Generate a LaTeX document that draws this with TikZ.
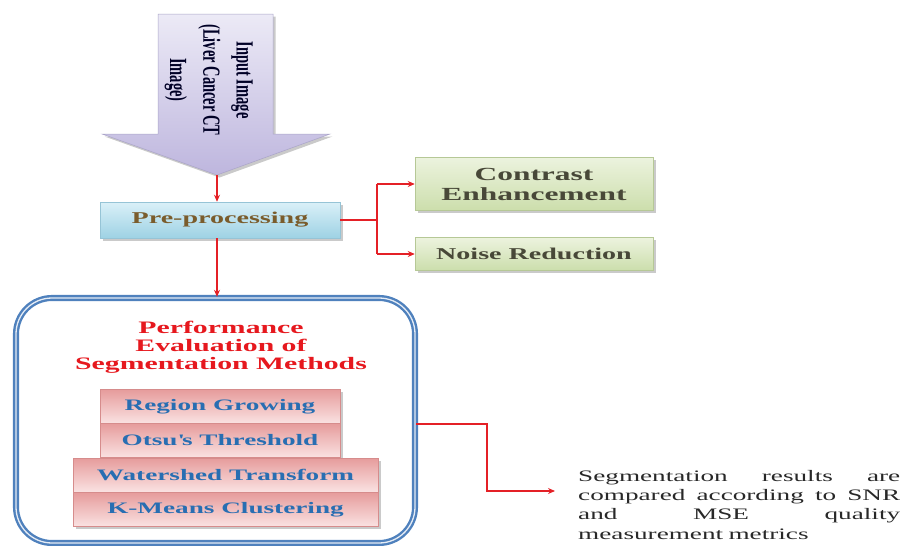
\documentclass[tikz,border=0pt]{standalone}
\usepackage{graphicx}
\usepackage{fontspec}
\setmainfont{Liberation Serif}[FakeStretch=1.7]
\newfontfamily\plainserif{Liberation Serif}
\usetikzlibrary{shadows,arrows.meta,calc}
\definecolor{redln}{RGB}{228,32,38}
\definecolor{lavtop}{RGB}{236,234,246}
\definecolor{lavbot}{RGB}{190,182,222}
\definecolor{lavedge}{RGB}{170,164,200}
\definecolor{cyantop}{RGB}{218,240,248}
\definecolor{cyanbot}{RGB}{158,210,228}
\definecolor{cyanedge}{RGB}{150,196,214}
\definecolor{grntop}{RGB}{236,243,222}
\definecolor{grnbot}{RGB}{204,222,172}
\definecolor{grnedge}{RGB}{182,200,150}
\definecolor{pinktop}{RGB}{230,156,156}
\definecolor{pinkbot}{RGB}{250,226,226}
\definecolor{pinkedge}{RGB}{214,140,140}
\definecolor{frameblue}{RGB}{79,129,189}
\definecolor{prebrown}{RGB}{122,92,44}
\definecolor{olivetxt}{RGB}{72,72,56}
\definecolor{methblue}{RGB}{40,110,178}
\definecolor{titlered}{RGB}{230,24,30}
\definecolor{restxt}{RGB}{40,40,40}
\tikzset{
  redline/.style={draw=redln, line width=1.5pt},
  redarrow/.style={redline, -{Stealth[length=7pt,width=6pt]}},
  softshadow/.style={drop shadow={shadow xshift=2.5pt, shadow yshift=-2.5pt, opacity=0.35, fill=black!60}},
  prebox/.style={draw=cyanedge, line width=0.5pt, top color=cyantop, bottom color=cyanbot,
    softshadow, minimum width=240pt, minimum height=36pt, inner sep=0pt,
    font=\fontsize{16.5}{18}\selectfont\bfseries, text=prebrown},
  grnbox/.style={draw=grnedge, line width=0.5pt, top color=grntop, bottom color=grnbot,
    softshadow, minimum width=238pt, inner sep=0pt, align=center, text=olivetxt},
  methbox/.style={draw=pinkedge, line width=0.5pt, top color=pinktop, bottom color=pinkbot,
    softshadow, minimum height=34pt, inner sep=0pt,
    font=\fontsize{16}{18}\selectfont\bfseries, text=methblue},
  framebox/.style={draw=frameblue, line width=2.4pt, double=white!85!frameblue, double distance=1.3pt,
    rounded corners=36pt, minimum width=399pt, minimum height=245pt, inner sep=0pt},
}
\begin{document}
\begin{tikzpicture}[x=1pt,y=-1pt]
\useasboundingbox (0,0) rectangle (900,546);
% input block arrow
\path[draw=lavedge, line width=0.5pt, top color=lavtop, bottom color=lavbot, softshadow]
  (158,14) -- (273,14) -- (273,134) -- (330,134) -- (217,175) -- (102,134) -- (158,134) -- cycle;
\coordinate (tip) at (217,175);
\node[rotate=-90, inner sep=0pt, align=center, text=black!85!blue] (inlabel) at (210,80)
  {\scalebox{1}[1.7]{\plainserif\bfseries\fontsize{14.5}{19.5}\selectfont
   \begin{tabular}{@{}c@{}}Input Image\\(Liver Cancer CT\\Image)\end{tabular}}};
% preprocessing
\node[prebox] (pre) at (220,220) {Pre-processing};
\node[grnbox, minimum height=53pt, font=\fontsize{18.5}{20}\selectfont\bfseries] (ce) at (534,184) {Contrast\\Enhancement};
\node[grnbox, minimum height=33pt, font=\fontsize{16.5}{18}\selectfont\bfseries] (nr) at (534,254) {Noise Reduction};
% frame
\node[framebox] (frame) at (215.5,420.5) {};
\node[align=center, inner sep=0pt, text=titlered, font=\fontsize{17.5}{18}\selectfont\bfseries] (title) at (221,347)
  {Performance\\Evaluation of\\Segmentation Methods};
\node[methbox, minimum width=240pt] (rg) at (220,406.5) {Region Growing};
\node[methbox, minimum width=240pt] (ot) at (220,440.5) {Otsu\textquotesingle s Threshold};
\node[methbox, minimum width=305pt] (ws) at (225.5,475) {Watershed Transform};
\node[methbox, minimum width=305pt] (km) at (225.5,509.5) {K-Means Clustering};
% result text
\node[anchor=north west, inner sep=0pt, text width=322pt, text=restxt,
  font=\fontsize{16}{19.3}\selectfont] (res) at (578,470)
  {\makebox[322pt][l]{Segmentation\hfill results\hfill are}\\
   \makebox[322pt][l]{compared\hfill according\hfill to\hfill SNR}\\
   \makebox[322pt][l]{and\hfill MSE\hfill quality}\\
   measurement metrics};
% connectors
\draw[redarrow] (tip) -- (tip |- pre.north);
\coordinate (br) at (377,220);
\draw[redline] (pre.east) -- (br);
\draw[redline] (br |- ce.west) -- (br |- nr.west);
\draw[redarrow] (br |- ce.west) -- (ce.west);
\draw[redarrow] (br |- nr.west) -- (nr.west);
\draw[redarrow] (pre.south -| tip) -- (tip |- frame.north);
\coordinate (elbow) at (487,424);
\coordinate (resin) at (555,491);
\draw[redarrow] (frame.east |- elbow) -- (elbow) |- (resin);
\end{tikzpicture}
\end{document}
